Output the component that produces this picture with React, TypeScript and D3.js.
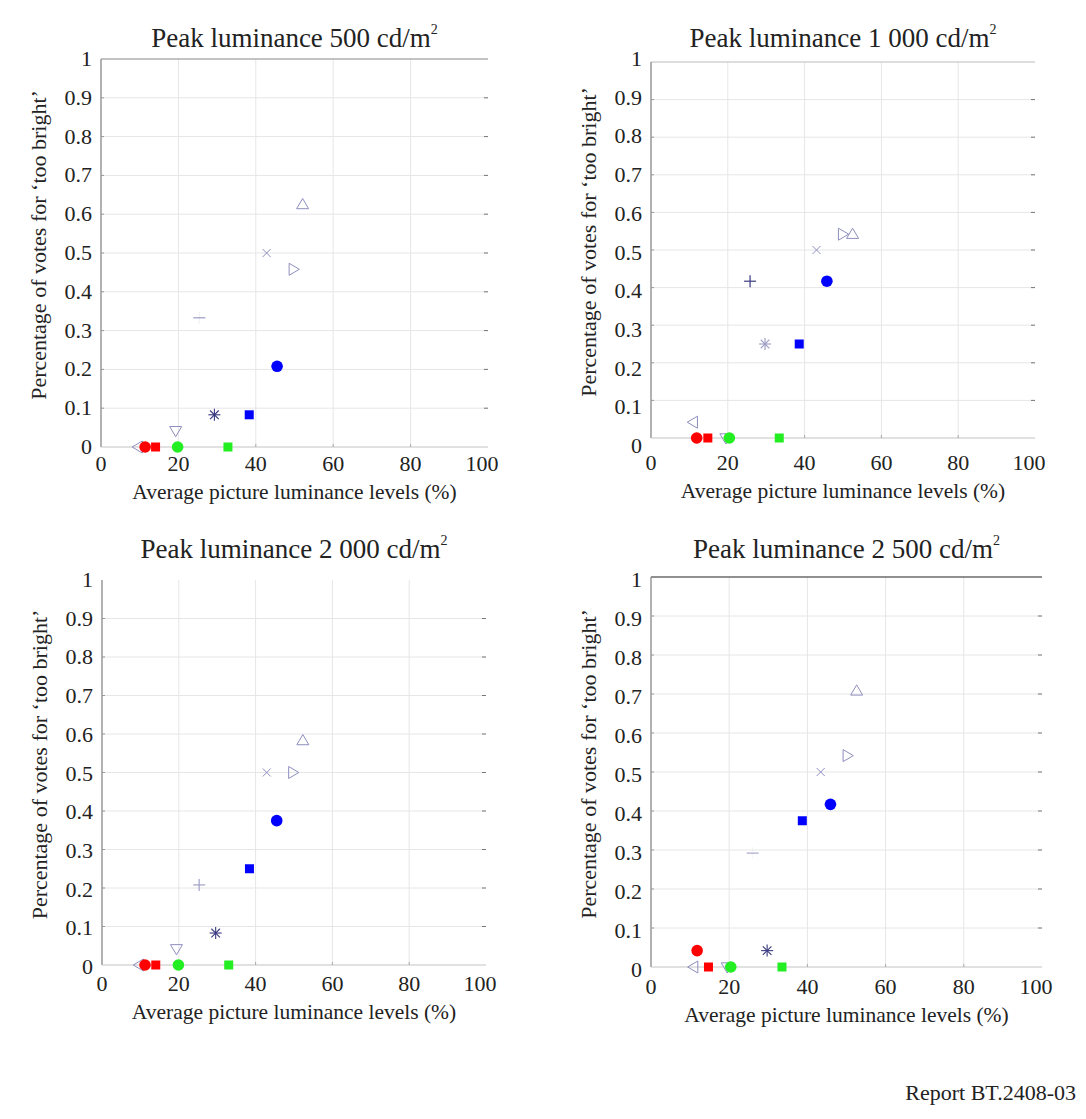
import React from "react";
import * as d3 from "d3";

// ---- data ----
const markerTypes = ["triLeft", "circleRed", "squareRed", "triDown", "circleGreen", "plus", "asterisk", "squareGreen", "squareBlue", "cross", "circleBlue", "triRight", "triUp"];

const titles = ["Peak luminance 500 cd/m", "Peak luminance 1 000 cd/m", "Peak luminance 2 000 cd/m", "Peak luminance 2 500 cd/m"];

const apl500 = [9.6, 11.4, 14.1, 19.3, 19.8, 25.4, 29.3, 32.8, 38.3, 42.8, 45.5, 49.7, 52.1];
const votes500 = [0, 0, 0, 0.042, 0, 0.333, 0.083, 0, 0.083, 0.5, 0.208, 0.458, 0.625];

const apl1000 = [11.0, 11.9, 14.8, 19.5, 20.4, 25.8, 29.7, 33.4, 38.6, 43.1, 45.8, 49.9, 52.5];
const votes1000 = [0.042, 0, 0, 0, 0, 0.417, 0.25, 0, 0.25, 0.5, 0.417, 0.542, 0.542];

const apl2000 = [9.7, 11.2, 14.0, 19.4, 19.9, 25.3, 29.6, 33.0, 38.4, 42.9, 45.5, 49.7, 52.3];
const votes2000 = [0, 0, 0, 0.042, 0, 0.208, 0.083, 0, 0.25, 0.5, 0.375, 0.5, 0.583];

const apl2500 = [10.9, 11.8, 14.7, 19.5, 20.4, 26.0, 29.7, 33.5, 38.7, 43.4, 45.9, 50.2, 52.6];
const votes2500 = [0, 0.042, 0, 0, 0, 0.292, 0.042, 0, 0.375, 0.5, 0.417, 0.542, 0.708];

const xTicks = [0, 20, 40, 60, 80, 100];
const yTicks = [0, 0.1, 0.2, 0.3, 0.4, 0.5, 0.6, 0.7, 0.8, 0.9, 1];

const xLabel = "Average picture luminance levels (%)";
const yLabel = "Percentage of votes for \u2018too bright\u2019";
const footer = "Report BT.2408-03";

// ---- layout / style ----
const panels = [
  { title: titles[0], apl: apl500, votes: votes500, left: 101, right: 488, top: 59, bottom: 447, labTop: 59, labBottom: 447, titleY: 47, topLine: "#888", plusV: 0.15, plusC: "#9a9ac4", astC: "#36367e" },
  { title: titles[1], apl: apl1000, votes: votes1000, left: 651, right: 1035, top: 62, bottom: 438, labTop: 59, labBottom: 446, titleY: 47, topLine: "#bbb", plusV: 1, plusC: "#3a3a80", astC: "#9a9ac4" },
  { title: titles[2], apl: apl2000, votes: votes2000, left: 102, right: 486, top: 580, bottom: 965, labTop: 580, labBottom: 967, titleY: 558, topLine: "none", plusV: 1, plusC: "#a0a0c8", astC: "#3a3a80" },
  { title: titles[3], apl: apl2500, votes: votes2500, left: 651, right: 1042, top: 577, bottom: 967, labTop: 580, labBottom: 970, titleY: 558, topLine: "#222", plusV: 0.1, plusC: "#a8a8cc", astC: "#3a3a80" },
];

const FONT = "'Liberation Serif', 'Times New Roman', serif";
const LIGHT = "#8e8ebf";

function Marker({ type, x, y, plusV, plusC, astC }: any) {
  const s = 6;
  switch (type) {
    case "circleRed":
      return <circle cx={x} cy={y} r={5.8} fill="#ff0000" />;
    case "circleGreen":
      return <circle cx={x} cy={y} r={5.8} fill="#22ee22" />;
    case "circleBlue":
      return <circle cx={x} cy={y} r={5.8} fill="#0000ff" />;
    case "squareRed":
      return <rect x={x - 4.5} y={y - 4.5} width={9} height={9} fill="#ff0000" />;
    case "squareGreen":
      return <rect x={x - 4.5} y={y - 4.5} width={9} height={9} fill="#22ee22" />;
    case "squareBlue":
      return <rect x={x - 4.5} y={y - 4.5} width={9} height={9} fill="#0000ff" />;
    case "triUp":
      return <path d={`M${x},${y - s}L${x + s},${y + s * 0.7}L${x - s},${y + s * 0.7}Z`} fill="none" stroke={LIGHT} strokeWidth={1} />;
    case "triDown":
      return <path d={`M${x},${y + s}L${x + s},${y - s * 0.7}L${x - s},${y - s * 0.7}Z`} fill="none" stroke={LIGHT} strokeWidth={1} />;
    case "triLeft":
      return <path d={`M${x - s},${y}L${x + s * 0.7},${y - s}L${x + s * 0.7},${y + s}Z`} fill="none" stroke={LIGHT} strokeWidth={1} />;
    case "triRight":
      return <path d={`M${x + s},${y}L${x - s * 0.7},${y - s}L${x - s * 0.7},${y + s}Z`} fill="none" stroke={LIGHT} strokeWidth={1} />;
    case "cross":
      return <path d={`M${x - 4},${y - 4}L${x + 4},${y + 4}M${x - 4},${y + 4}L${x + 4},${y - 4}`} stroke={LIGHT} strokeWidth={1} />;
    case "plus":
      return (
        <g stroke={plusC} strokeWidth={1.2}>
          <line x1={x - 6} x2={x + 6} y1={y} y2={y} />
          <line x1={x} x2={x} y1={y - 6} y2={y + 6} strokeOpacity={plusV} />
        </g>
      );
    case "asterisk":
      return (
        <g stroke={astC} strokeWidth={1.1}>
          <line x1={x - 6} x2={x + 6} y1={y} y2={y} />
          <line x1={x} x2={x} y1={y - 6} y2={y + 6} />
          <line x1={x - 4.3} x2={x + 4.3} y1={y - 4.3} y2={y + 4.3} />
          <line x1={x - 4.3} x2={x + 4.3} y1={y + 4.3} y2={y - 4.3} />
        </g>
      );
    default:
      return null;
  }
}

function Panel({ p }: any) {
  const x = d3.scaleLinear().domain([0, 100]).range([p.left, p.right]);
  const y = d3.scaleLinear().domain([0, 1]).range([p.bottom, p.top]);
  const yLab = d3.scaleLinear().domain([0, 1]).range([p.labBottom, p.labTop]);
  const cx = (p.left + p.right) / 2;
  const cy = (p.top + p.bottom) / 2;
  return (
    <g fontFamily={FONT} fill="#222">
      {xTicks.slice(1, -1).map((t) => (
        <line key={"gx" + t} x1={x(t)} x2={x(t)} y1={p.top} y2={p.bottom} stroke="#e6e6e6" strokeWidth={1} />
      ))}
      {yTicks.slice(1, -1).map((t) => (
        <line key={"gy" + t} x1={p.left} x2={p.right} y1={y(t)} y2={y(t)} stroke="#e6e6e6" strokeWidth={1} />
      ))}
      {p.topLine !== "none" && <line x1={p.left} x2={p.right} y1={p.top} y2={p.top} stroke={p.topLine} strokeWidth={1.2} />}
      <line x1={p.left} x2={p.left} y1={p.top} y2={p.bottom} stroke="#888" strokeWidth={1.3} />
      <line x1={p.left} x2={p.right} y1={p.bottom} y2={p.bottom} stroke="#c4c4c4" strokeWidth={1.2} />
      {yTicks.slice(1, -1).map((t) => (
        <g key={"tk" + t}>
          <line x1={p.right - 4} x2={p.right} y1={y(t)} y2={y(t)} stroke="#777" strokeWidth={1} />
          <line x1={p.left} x2={p.left + 3} y1={y(t)} y2={y(t)} stroke="#999" strokeWidth={1} />
        </g>
      ))}
      {xTicks.slice(1, -1).map((t) => (
        <line key={"tx" + t} x1={x(t)} x2={x(t)} y1={p.bottom} y2={p.bottom - 3} stroke="#aaa" strokeWidth={1} />
      ))}
      {yTicks.map((t) => (
        <text key={"yl" + t} x={p.left - 9} y={yLab(t) + 7} textAnchor="end" fontSize={22} fill="#222">
          {d3.format("~g")(t)}
        </text>
      ))}
      {xTicks.map((t) => (
        <text key={"xl" + t} x={x(t) - (t === 100 ? 6 : 0)} y={p.labBottom + 24} textAnchor="middle" fontSize={22} fill="#222">
          {t}
        </text>
      ))}
      <text x={cx} y={p.labBottom + 52} textAnchor="middle" fontSize={21.5} fill="#222">
        {xLabel}
      </text>
      <text transform={`translate(${p.left - 55},${cy - 8}) rotate(-90)`} textAnchor="middle" fontSize={22} fill="#222">
        {yLabel}
      </text>
      <text x={cx} y={p.titleY} textAnchor="middle" fontSize={27} fill="#222">
        {p.title}
        <tspan dy={-13} fontSize={14}>2</tspan>
      </text>
      {p.apl.map((a: number, i: number) => (
        <Marker key={"m" + i} type={markerTypes[i]} x={x(a)} y={y(p.votes[i])} plusV={p.plusV} plusC={p.plusC} astC={p.astC} />
      ))}
    </g>
  );
}

export default function App() {
  return (
    <svg width={1086} height={1119} style={{ position: "absolute", left: 0, top: 0, background: "#fff" }}>
      <rect x={0} y={0} width={1086} height={1119} fill="#fff" />
      {panels.map((p, i) => (
        <Panel key={i} p={p} />
      ))}
      <text x={1076} y={1100} textAnchor="end" fontSize={22} fontFamily={FONT} fill="#222">
        {footer}
      </text>
    </svg>
  );
}
